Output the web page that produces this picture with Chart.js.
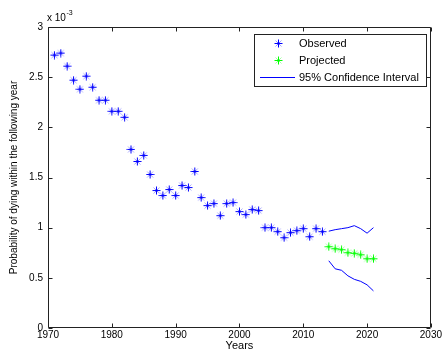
<!DOCTYPE html>
<html>
<head>
<meta charset="utf-8">
<script src="https://cdn.jsdelivr.net/npm/chart.js@4/dist/chart.umd.min.js"></script>
<style>
  html, body { margin: 0; padding: 0; background: #fff; }
  #wrap { width: 443px; height: 363px; }
</style>
</head>
<body>
<div id="wrap"><canvas id="c" width="443" height="363"></canvas></div>
<script>
// Annual probability of dying within the following year, in units of 10^-3
const observedYears = [1971, 1972, 1973, 1974, 1975, 1976, 1977, 1978, 1979, 1980,
  1981, 1982, 1983, 1984, 1985, 1986, 1987, 1988, 1989, 1990,
  1991, 1992, 1993, 1994, 1995, 1996, 1997, 1998, 1999, 2000,
  2001, 2002, 2003, 2004, 2005, 2006, 2007, 2008, 2009, 2010,
  2011, 2012, 2013];
const observedRates = [2.72, 2.74, 2.61, 2.47, 2.38, 2.51, 2.40, 2.27, 2.27, 2.16,
  2.16, 2.10, 1.78, 1.66, 1.72, 1.53, 1.37, 1.32, 1.38, 1.32,
  1.42, 1.40, 1.56, 1.30, 1.22, 1.24, 1.12, 1.24, 1.25, 1.16,
  1.13, 1.18, 1.17, 1.00, 1.00, 0.96, 0.90, 0.95, 0.97, 0.99,
  0.91, 0.99, 0.96];

const projectedYears = [2014, 2015, 2016, 2017, 2018, 2019, 2020, 2021];
const projectedRates = [0.81, 0.79, 0.78, 0.75, 0.745, 0.73, 0.69, 0.69];
const ciUpper = [0.965, 0.98, 0.99, 1.00, 1.02, 0.99, 0.945, 1.00];
const ciLower = [0.67, 0.59, 0.575, 0.52, 0.485, 0.465, 0.43, 0.37];

const xTicks = [1970, 1980, 1990, 2000, 2010, 2020, 2030];
const yTicks = [0, 0.5, 1, 1.5, 2, 2.5, 3];

const legendLabels = ['Observed', 'Projected', '95% Confidence Interval'];

const pts = (xs, ys) => xs.map((x, i) => ({ x: x, y: ys[i] }));

const BLUE = '#0000ff';
const GREEN = '#00ff00';
const FONT = 'Arial, "Liberation Sans", sans-serif';

// Asterisk marker: solid plus with soft diagonal strokes
function asterisk(rgb) {
  const c = document.createElement('canvas');
  c.width = 9; c.height = 9;
  const g = c.getContext('2d');
  g.lineWidth = 1;
  g.strokeStyle = 'rgba(' + rgb + ',0.35)';
  g.beginPath();
  g.moveTo(1.5, 1.5); g.lineTo(7.5, 7.5);
  g.moveTo(7.5, 1.5); g.lineTo(1.5, 7.5);
  g.stroke();
  g.strokeStyle = 'rgba(' + rgb + ',0.25)';
  g.strokeRect(3.5, 3.5, 2, 2);
  g.strokeStyle = 'rgb(' + rgb + ')';
  g.beginPath();
  g.moveTo(0.5, 4.5); g.lineTo(8.5, 4.5);
  g.moveTo(4.5, 0.5); g.lineTo(4.5, 8.5);
  g.stroke();
  return c;
}
const blueStar = asterisk('0,0,255');
const greenStar = asterisk('0,255,0');

// Box, inward tick marks, exponent label and legend, in MATLAB style
const axesDecor = {
  id: 'axesDecor',
  afterDraw(chart) {
    const ctx = chart.ctx;
    const a = chart.chartArea;
    const xs = chart.scales.x, ys = chart.scales.y;
    const L = Math.round(a.left) + 0.5, R = Math.round(a.right) - 0.5;
    const T = Math.round(a.top) + 0.5, B = Math.round(a.bottom) - 0.5;
    const tl = 4;
    ctx.save();
    ctx.strokeStyle = '#222';
    ctx.lineWidth = 1;
    ctx.beginPath();
    ctx.rect(L, T, R - L, B - T);
    xTicks.forEach(v => {
      const px = Math.round(xs.getPixelForValue(v)) + 0.5;
      ctx.moveTo(px, B); ctx.lineTo(px, B - tl);
      ctx.moveTo(px, T); ctx.lineTo(px, T + tl);
    });
    yTicks.forEach(v => {
      const py = Math.round(ys.getPixelForValue(v)) + 0.5;
      ctx.moveTo(L, py); ctx.lineTo(L + tl, py);
      ctx.moveTo(R, py); ctx.lineTo(R - tl, py);
    });
    ctx.stroke();

    // exponent label above the y axis
    ctx.fillStyle = '#000';
    ctx.textBaseline = 'alphabetic';
    ctx.textAlign = 'left';
    ctx.font = '10px ' + FONT;
    ctx.fillText('x 10', 47, 21);
    const w = ctx.measureText('x 10').width;
    ctx.font = '7px ' + FONT;
    ctx.fillText('-3', 47 + w + 0.5, 15);

    // legend
    const lx = 254.5, ly = 34.5, lw = 172, lh = 52;
    ctx.fillStyle = '#fff';
    ctx.fillRect(lx, ly, lw, lh);
    ctx.strokeStyle = '#222';
    ctx.strokeRect(lx, ly, lw, lh);
    const rowY = [43, 60, 77];
    ctx.drawImage(blueStar, 278 - 4, rowY[0] - 4);
    ctx.drawImage(greenStar, 278 - 4, rowY[1] - 4);
    ctx.strokeStyle = BLUE;
    ctx.lineWidth = 1;
    ctx.beginPath();
    ctx.moveTo(260, rowY[2] + 0.5); ctx.lineTo(295, rowY[2] + 0.5);
    ctx.stroke();
    ctx.fillStyle = '#000';
    ctx.font = '11px ' + FONT;
    ctx.textBaseline = 'middle';
    legendLabels.forEach((t, i) => ctx.fillText(t, 299, rowY[i] + 0.5));
    ctx.restore();
  }
};

new Chart(document.getElementById('c'), {
  type: 'scatter',
  data: {
    datasets: [
      {
        label: legendLabels[0],
        data: pts(observedYears, observedRates),
        pointStyle: blueStar, pointRadius: 4, borderColor: BLUE, backgroundColor: BLUE,
        showLine: false
      },
      {
        label: legendLabels[1],
        data: pts(projectedYears, projectedRates),
        pointStyle: greenStar, pointRadius: 4, borderColor: GREEN, backgroundColor: GREEN,
        showLine: false
      },
      {
        label: legendLabels[2],
        data: pts(projectedYears, ciUpper),
        showLine: true, pointRadius: 0, borderColor: BLUE, borderWidth: 1, tension: 0
      },
      {
        label: legendLabels[2] + ' (lower)',
        data: pts(projectedYears, ciLower),
        showLine: true, pointRadius: 0, borderColor: BLUE, borderWidth: 1, tension: 0
      }
    ]
  },
  options: {
    responsive: false,
    animation: false,
    devicePixelRatio: 1,
    layout: { padding: { top: 27, right: 12, left: 0, bottom: 0 } },
    plugins: { legend: { display: false }, tooltip: { enabled: false } },
    scales: {
      x: {
        type: 'linear', min: 1970, max: 2030,
        afterBuildTicks: s => { s.ticks = xTicks.map(v => ({ value: v })); },
        afterFit: s => { s.height = 35; },
        grid: { display: false, drawTicks: false },
        border: { display: false },
        ticks: {
          color: '#000', font: { family: FONT, size: 10 }, padding: 1,
          maxRotation: 0, autoSkip: false,
          callback: v => String(v)
        },
        title: {
          display: true, text: 'Years', color: '#000',
          font: { family: FONT, size: 11 }, padding: { top: 0, bottom: 10 }
        }
      },
      y: {
        type: 'linear', min: 0, max: 3,
        afterBuildTicks: s => { s.ticks = yTicks.map(v => ({ value: v })); },
        afterFit: s => { s.width = 48; },
        grid: { display: false, drawTicks: false },
        border: { display: false },
        ticks: {
          color: '#000', font: { family: FONT, size: 10 }, padding: 5,
          autoSkip: false,
          callback: v => String(v)
        },
        title: {
          display: true, text: 'Probability of dying within the following year', color: '#000',
          font: { family: FONT, size: 10 }, padding: { top: 8, bottom: 0 }
        }
      }
    }
  },
  plugins: [axesDecor]
});
</script>
</body>
</html>
